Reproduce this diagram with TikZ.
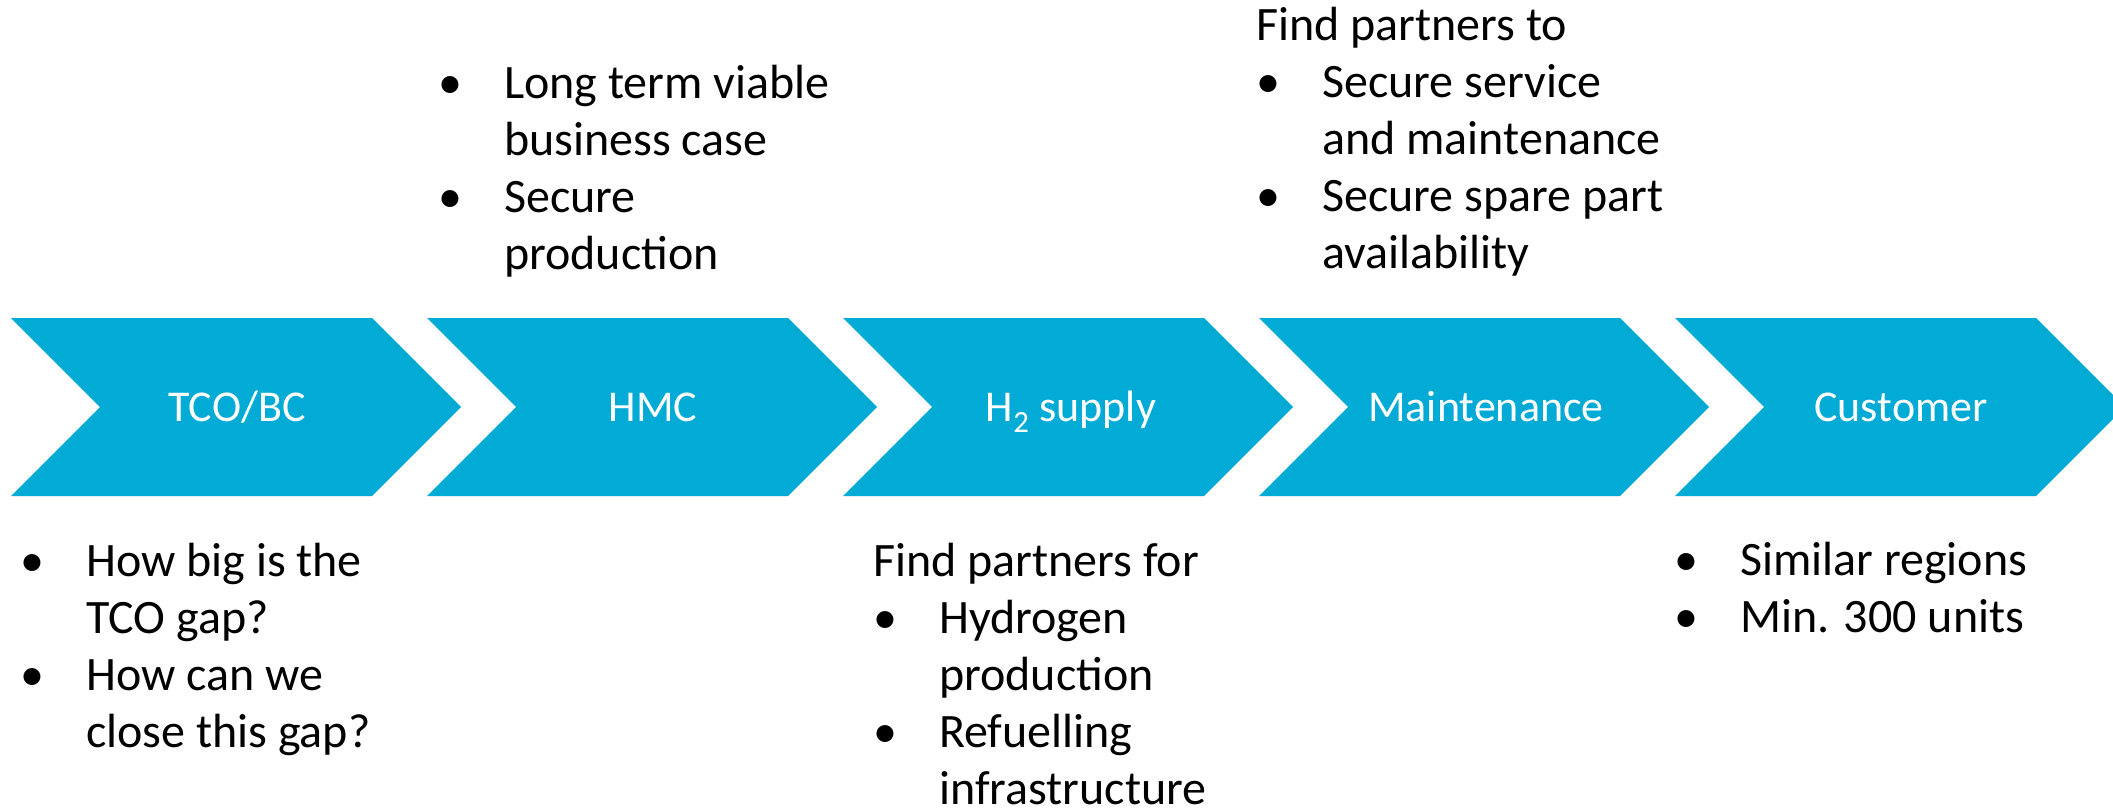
\documentclass[tikz,border=0pt]{standalone}
\usepackage{fontspec}
\setmainfont{Carlito}
\usepackage{tikz}
\definecolor{chevblue}{HTML}{02ABD6}
\newcommand{\bul}{\makebox[66pt][l]{\textbullet}}
\newcommand{\ind}{\hspace*{66pt}}

\begin{document}
\begin{tikzpicture}[x=1pt,y=-1pt]
			\tikzset{chev/.style={fill=chevblue}}
			\tikzset{stage/.style={anchor=base,text=white,inner sep=0pt,font=\fontsize{44}{53}\selectfont}}
			% notes are placed at the baseline of their last line
			\tikzset{note/.style={anchor=base west,align=left,inner sep=0pt,font=\fontsize{48}{57}\selectfont}}
			\clip (0,0) rectangle (2113,808);
			% the five chevrons
			\foreach \x in {11,427,843,1259,1675}
				\fill[chev] (\x,318) -- ++(361,0) -- ++(89,89) -- ++(-89,89) -- ++(-361,0) -- ++(89,-89) -- cycle;
			\node[stage] (tco) at (237,421) {TCO/BC};
			\node[stage] (hmc) at (653,421) {HMC};
			\node[stage] (htwo) at (1071,421) {H\textsubscript{2} supply};
			\node[stage] (maint) at (1486,421) {Maintenance};
			\node[stage] (cust) at (1901,421) {Customer};
			% notes above
			\node[note] (hmcnote) at (438,269) {\bul Long term viable\\\ind business case\\\bul Secure\\\ind production};
			\node[note] (maintnote) at (1256,268) {Find partners to\\\bul Secure service\\\ind and maintenance\\\bul Secure spare part\\\ind availability};
			% notes below
			\node[note] (tconote) at (20,747) {\bul How big is the\\\ind TCO gap?\\\bul How can we\\\ind close this gap?};
			\node[note] (htwonote) at (873,804) {Find partners for\\\bul Hydrogen\\\ind production\\\bul Refuelling\\\ind infrastructure};
			\node[note] (custnote) at (1674,632) {\bul Similar regions\\\bul Min. 300 units};
\end{tikzpicture}
\end{document}
